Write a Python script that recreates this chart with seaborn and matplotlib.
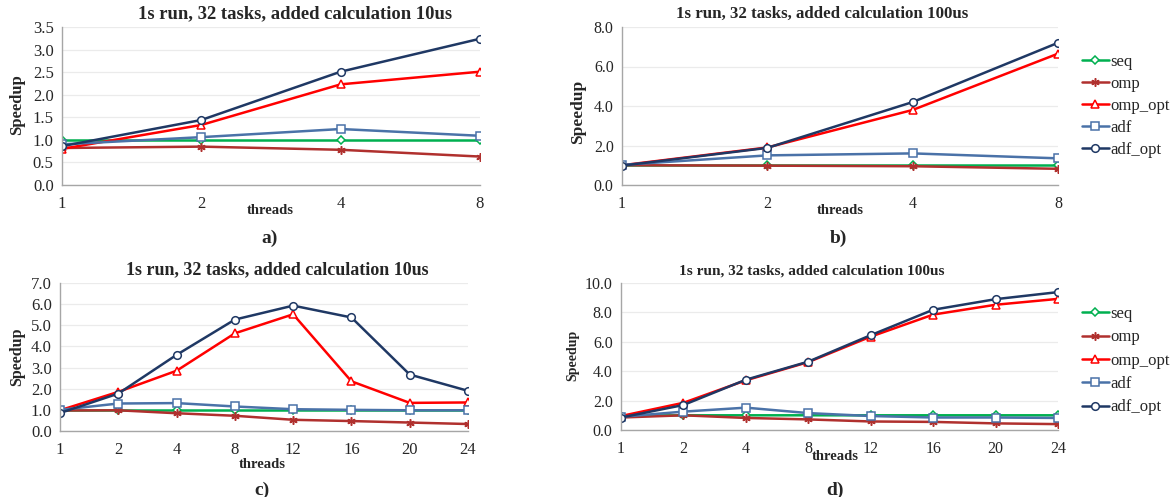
import numpy as np
import pandas as pd
import seaborn as sns
import matplotlib.pyplot as plt

# data
series = ["seq", "omp", "omp_opt", "adf", "adf_opt"]
threads_small = ["1", "2", "4", "8"]
threads_big = ["1", "2", "4", "8", "12", "16", "20", "24"]

a_seq = [1.00, 1.00, 1.00, 1.00]
a_omp = [0.82, 0.85, 0.78, 0.63]
a_omp_opt = [0.80, 1.33, 2.23, 2.51]
a_adf = [0.90, 1.06, 1.24, 1.09]
a_adf_opt = [0.86, 1.44, 2.51, 3.24]

b_seq = [1.00, 1.00, 1.00, 1.00]
b_omp = [1.00, 0.98, 0.95, 0.82]
b_omp_opt = [1.00, 1.90, 3.80, 6.65]
b_adf = [1.02, 1.50, 1.60, 1.35]
b_adf_opt = [0.98, 1.88, 4.20, 7.20]

c_seq = [1.00, 1.00, 1.00, 1.00, 1.00, 1.00, 1.00, 1.00]
c_omp = [0.97, 0.98, 0.84, 0.72, 0.53, 0.47, 0.40, 0.33]
c_omp_opt = [0.98, 1.85, 2.85, 4.62, 5.52, 2.35, 1.33, 1.35]
c_adf = [1.00, 1.30, 1.32, 1.16, 1.03, 1.00, 0.98, 0.98]
c_adf_opt = [0.85, 1.77, 3.60, 5.27, 5.93, 5.37, 2.67, 1.90]

d_seq = [0.98, 1.00, 1.00, 1.00, 1.00, 1.00, 1.00, 1.00]
d_omp = [0.85, 1.00, 0.82, 0.72, 0.58, 0.55, 0.45, 0.40]
d_omp_opt = [0.95, 1.85, 3.38, 4.62, 6.35, 7.85, 8.52, 8.92]
d_adf = [0.90, 1.25, 1.52, 1.15, 0.95, 0.85, 0.85, 0.82]
d_adf_opt = [0.85, 1.70, 3.42, 4.65, 6.45, 8.18, 8.90, 9.38]

titles = ["1s run, 32 tasks, added calculation 10us",
          "1s run, 32 tasks, added calculation 100us",
          "1s run, 32 tasks, added calculation 10us",
          "1s run, 32 tasks, added calculation 100us"]
letters = ["a)", "b)", "c)", "d)"]

colors = {"seq": "#00B050", "omp": "#B0302E", "omp_opt": "#FF0000",
          "adf": "#4A72A8", "adf_opt": "#1F3864"}
markers = {"seq": "D", "omp": (6, 2, 0), "omp_opt": "^", "adf": "s", "adf_opt": "o"}
msizes = {"seq": 4, "omp": 6, "omp_opt": 5.5, "adf": 5.5, "adf_opt": 5.5}


def long_df(threads, vals):
    rows = []
    for name, v in zip(series, vals):
        for t, y in zip(threads, v):
            rows.append({"threads": t, "speedup": y, "series": name})
    return pd.DataFrame(rows)


panels = [
    long_df(threads_small, [a_seq, a_omp, a_omp_opt, a_adf, a_adf_opt]),
    long_df(threads_small, [b_seq, b_omp, b_omp_opt, b_adf, b_adf_opt]),
    long_df(threads_big, [c_seq, c_omp, c_omp_opt, c_adf, c_adf_opt]),
    long_df(threads_big, [d_seq, d_omp, d_omp_opt, d_adf, d_adf_opt]),
]

sns.set_style("white")
plt.rcParams["font.family"] = ["Liberation Serif", "DejaVu Serif"]

W, H = 1176, 497
fig = plt.figure(figsize=(11.76, 4.97), dpi=100)

# axes boxes in pixels: left, right, top, bottom
boxes = [(62, 480, 27, 185), (622, 1058, 27, 185),
         (60, 468, 283, 431), (621, 1058, 283, 430)]
ylims = [(0, 3.5, 0.5), (0, 8, 2), (0, 7, 1), (0, 10, 2)]
tick_fs = [12, 11.5, 12, 11.5]
title_pos = [(295, 14, 13.4), (822, 14, 12.2), (277, 270, 13), (812, 271, 11)]
ylab_pos = [(17, 105, 12), (578, 112, 12.5), (17, 357, 11.5), (573, 355, 10)]
xlab_pos = [(270, 211, 10.5), (840, 211, 10.5), (262, 465, 10.5), (835, 457, 10.5)]
let_pos = [(270, 238), (838, 238), (262, 490), (835, 490)]
leg_top = [None, 54, None, 306]
leg_space = [None, 0.36, None, 0.44]

for i, df in enumerate(panels):
    l, r, t, b = boxes[i]
    ax = fig.add_axes([l / W, 1 - b / H, (r - l) / W, (b - t) / H])
    for name in series:
        sub = df[df["series"] == name]
        sns.lineplot(data=sub, x="threads", y="speedup", ax=ax, color=colors[name],
                     marker=markers[name], markersize=msizes[name],
                     markerfacecolor="white", markeredgecolor=colors[name],
                     markeredgewidth=1.1, linewidth=1.8, sort=False)
    n = len(df["threads"].unique())
    ax.set_xlim(0, n - 1)
    lo, hi, step = ylims[i]
    ticks = np.arange(lo, hi + step / 2, step)
    ax.set_ylim(lo, hi)
    ax.set_yticks(ticks)
    ax.set_yticklabels(["%.1f" % v for v in ticks])
    ax.yaxis.grid(True, color="#EBEBEB", linewidth=0.9)
    ax.set_axisbelow(True)
    for s in ["top", "right"]:
        ax.spines[s].set_visible(False)
    for s in ["left", "bottom"]:
        ax.spines[s].set_color("#A6A6A6")
        ax.spines[s].set_linewidth(1.0)
    ax.tick_params(axis="x", direction="out", length=5, color="#A6A6A6",
                   labelsize=tick_fs[i], pad=3)
    ax.tick_params(axis="y", direction="out", length=4, color="#A6A6A6",
                   labelsize=tick_fs[i], pad=2)
    ax.set_xlabel("")
    ax.set_ylabel("")

    tx, ty, ts = title_pos[i]
    fig.text(tx / W, 1 - ty / H, titles[i], ha="center", va="center",
             fontsize=ts, fontweight="bold")
    yx, yy, ys = ylab_pos[i]
    fig.text(yx / W, 1 - yy / H, "Speedup", rotation=90,
             ha="center", va="center", fontsize=ys, fontweight="bold")
    xx, xy, xs = xlab_pos[i]
    fig.text(xx / W, 1 - xy / H, "threads",
             ha="center", va="center", fontsize=xs, fontweight="bold")
    fig.text(let_pos[i][0] / W, 1 - let_pos[i][1] / H, letters[i],
             ha="center", va="center", fontsize=14, fontweight="bold")

    if i in (1, 3):
        ax.legend(handles=ax.lines[:5], labels=series, loc="upper left",
                  bbox_to_anchor=(1082 / W, 1 - leg_top[i] / H),
                  bbox_transform=fig.transFigure, frameon=False, fontsize=12,
                  handlelength=1.6, handletextpad=0.1, labelspacing=leg_space[i],
                  borderaxespad=0, borderpad=0)

fig.savefig("out.png", dpi=100)
